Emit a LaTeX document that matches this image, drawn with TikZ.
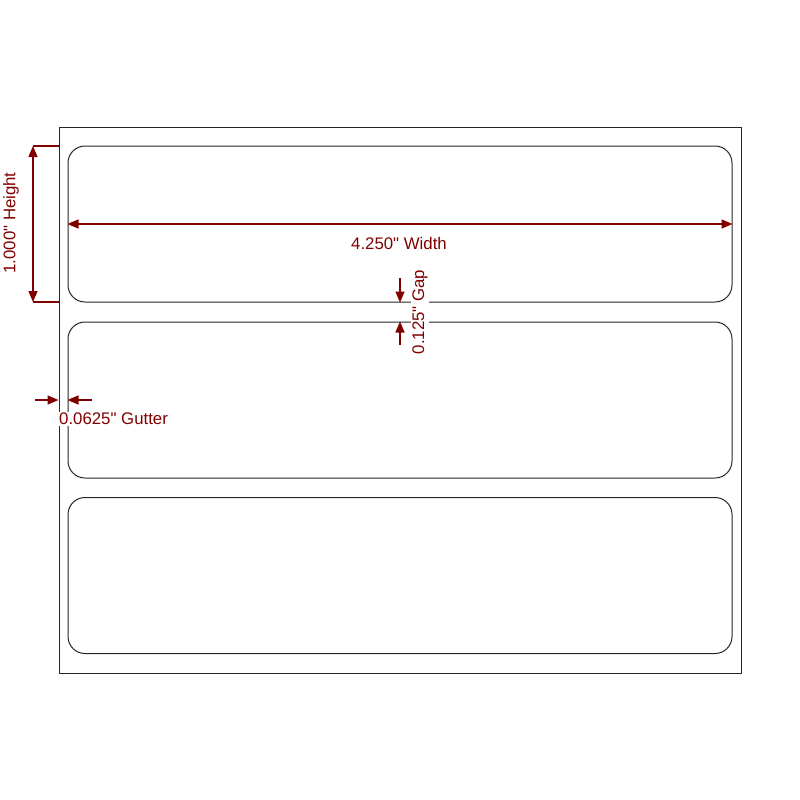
\documentclass[tikz,border=0pt]{standalone}
\usepackage{fontspec}
\newfontfamily\dimfont{Liberation Sans}
\usetikzlibrary{arrows.meta,positioning}
\definecolor{dimred}{RGB}{128,0,0}
\tikzset{%
    >={Triangle[width=9pt,length=11pt]},
    outline/.style = {
        rectangle, draw=black!85, line width=1pt, inner sep=0pt
    },
    sheet/.style = {outline, minimum width=682pt, minimum height=546pt},
    label/.style = {outline, rounded corners=17pt, minimum width=664pt,
        minimum height=156pt},
    dimline/.style = {draw=dimred, line width=1.5pt},
    dimtext/.style = {text=dimred, font=\dimfont\fontsize{16.8}{19}\selectfont,
        inner sep=1pt},
}
\begin{document}
\begin{tikzpicture}[x=1pt, y=-1pt]
        \useasboundingbox (0,0) rectangle (800,800);
        % Sheet and labels
        \node (page)   [sheet] at (400,400) {};
        \node (label1) [label] at (400,224) {};
        \node (label2) [label] at (400,400) {};
        \node (label3) [label] at (400,575.5) {};

        % Dimension points
        \coordinate (hTop)    at (33,146);
        \coordinate (hBottom) at (33,302);
        \coordinate (gapTop)  at (400,278);
        \coordinate (gapBot)  at (400,345);
        \coordinate (gutL)    at (35,400);
        \coordinate (gutR)    at (92,400);

        % Width
        \draw[dimline, <->] (label1.west) -- (label1.east);
        \node (widthText) [dimtext] at (399,243) {4.250" Width};

        % Height
        \draw[dimline] (hTop) -- (hTop -| page.west);
        \draw[dimline] (hBottom) -- (hBottom -| page.west);
        \draw[dimline, <->] (hTop) -- (hBottom);
        \node (heightText) [dimtext, rotate=90] at (11,223) {1.000" Height};

        % Gap
        \draw[dimline, ->] (gapTop) -- (gapTop |- label1.south);
        \draw[dimline, ->] (gapBot) -- (gapBot |- label2.north);
        \node (gapText) [dimtext, rotate=90, fill=white] at (420,312)
                                {0.125" Gap};

        % Gutter
        \draw[dimline, ->] (gutL) -- (gutL -| page.west);
        \draw[dimline, ->] (gutR) -- (gutR -| label2.west);
        \node (gutterText) [dimtext, fill=white, anchor=west] at (58,419)
                                {0.0625" Gutter};
    \end{tikzpicture}
\end{document}
